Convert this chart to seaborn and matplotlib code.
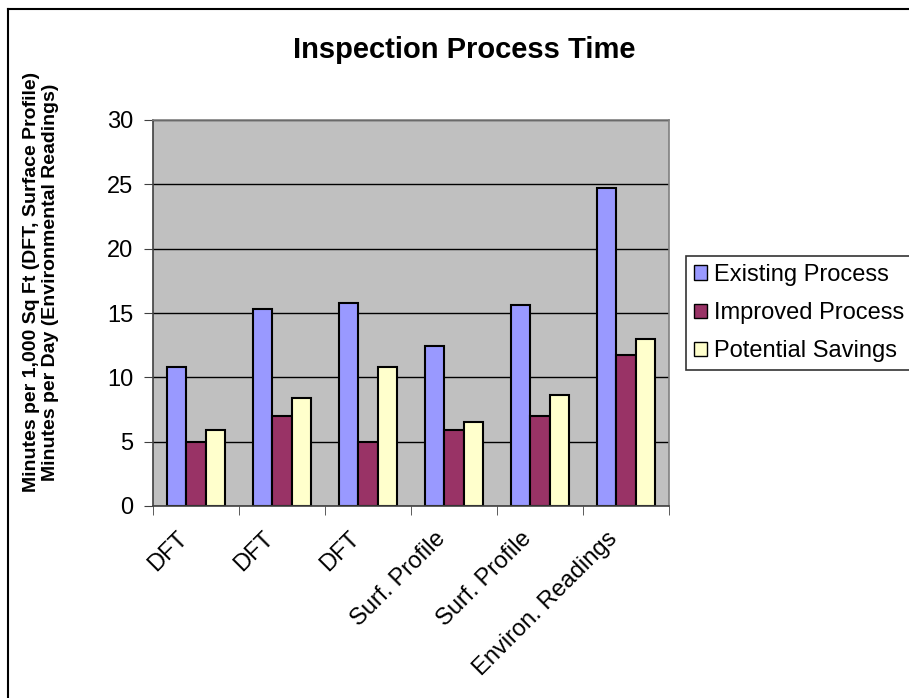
import numpy as np
import pandas as pd
import matplotlib
matplotlib.use("Agg")
import matplotlib.pyplot as plt
import matplotlib.transforms as mtransforms
import seaborn as sns
from matplotlib.patches import Patch
from matplotlib.lines import Line2D

# Data
categories = ["DFT", "DFT", "DFT", "Surf. Profile", "Surf. Profile", "Environ. Readings"]
series = ["Existing Process", "Improved Process", "Potential Savings"]
existing = [10.8, 15.3, 15.8, 12.4, 15.6, 24.7]
improved = [5.0, 7.0, 5.0, 5.9, 7.0, 11.7]
savings = [5.9, 8.4, 10.8, 6.5, 8.6, 13.0]
colors = ["#9999FF", "#993366", "#FFFFCC"]

# long table, one slot per category (labels repeat)
rows = []
for i, cat in enumerate(categories):
    for name, vals in zip(series, [existing, improved, savings]):
        rows.append({"slot": str(i), "series": name, "minutes": vals[i]})
df = pd.DataFrame(rows)

plt.rcParams["font.family"] = ["Liberation Sans", "DejaVu Sans"]

W, H = 909, 698
fig = plt.figure(figsize=(W / 100, H / 100), dpi=100)
ax = fig.add_axes([153 / W, 1 - 506 / H, (669 - 153) / W, (506 - 120) / H])

sns.barplot(data=df, x="slot", y="minutes", hue="series", palette=colors,
            width=0.67, saturation=1, edgecolor="black", linewidth=1.5,
            legend=False, ax=ax)

ax.set_facecolor("#C0C0C0")
ax.set_xlim(-0.5, 5.5)
ax.set_ylim(0, 30)
ax.set_yticks(range(0, 31, 5))
ax.yaxis.grid(True, color="black", linewidth=1)
ax.set_axisbelow(True)
ax.set_xlabel("")
ax.set_ylabel("")

ax.set_xticks(range(len(categories)))
ax.set_xticklabels(categories, rotation=45, ha="right", rotation_mode="anchor")
ax.set_xticks(np.arange(-0.5, len(categories), 1), minor=True)
ax.tick_params(axis="x", which="major", length=0, pad=14, labelsize=17)
ax.tick_params(axis="x", which="minor", length=6.5, direction="out", color="#404040")
ax.tick_params(axis="y", length=6.5, direction="out", labelsize=17, pad=7.5, color="#404040")

# nudge the slanted labels left/down like the original
shift = mtransforms.ScaledTranslation(-0.2, -0.02, fig.dpi_scale_trans)
for lab in ax.get_xticklabels():
    lab.set_transform(lab.get_transform() + shift)

for side in ["top", "right"]:
    ax.spines[side].set_color("#808080")
for side in ["left", "bottom"]:
    ax.spines[side].set_color("#404040")
for sp in ax.spines.values():
    sp.set_linewidth(1.2)

# title and two-line y label
fig.text(464 / W, 1 - 50 / H, "Inspection Process Time", ha="center", va="center",
         fontsize=21, fontweight="bold")
fig.text(41 / W, 1 - 282 / H,
         "Minutes per 1,000 Sq Ft (DFT, Surface Profile)\nMinutes per Day (Environmental Readings)",
         rotation=90, ha="center", va="center", multialignment="center",
         fontsize=14, fontweight="bold", linespacing=1.2)

handles = [Patch(facecolor=c, edgecolor="black", label=s) for c, s in zip(colors, series)]
leg = fig.legend(handles=handles, loc="center left", bbox_to_anchor=(686 / W, 1 - 313 / H),
                 frameon=True, fancybox=False, edgecolor="black", fontsize=17,
                 handlelength=0.55, handleheight=0.55, handletextpad=0.3,
                 borderpad=0.35, labelspacing=0.68, borderaxespad=0)
leg.get_frame().set_linewidth(1.2)

# outer chart border (only top and left visible in the crop)
fig.add_artist(Line2D([8 / W, 1], [1 - 9 / H, 1 - 9 / H], transform=fig.transFigure,
                      color="black", linewidth=1.5))
fig.add_artist(Line2D([8 / W, 8 / W], [0, 1 - 9 / H], transform=fig.transFigure,
                      color="black", linewidth=1.5))

fig.savefig("out.png", dpi=100)
